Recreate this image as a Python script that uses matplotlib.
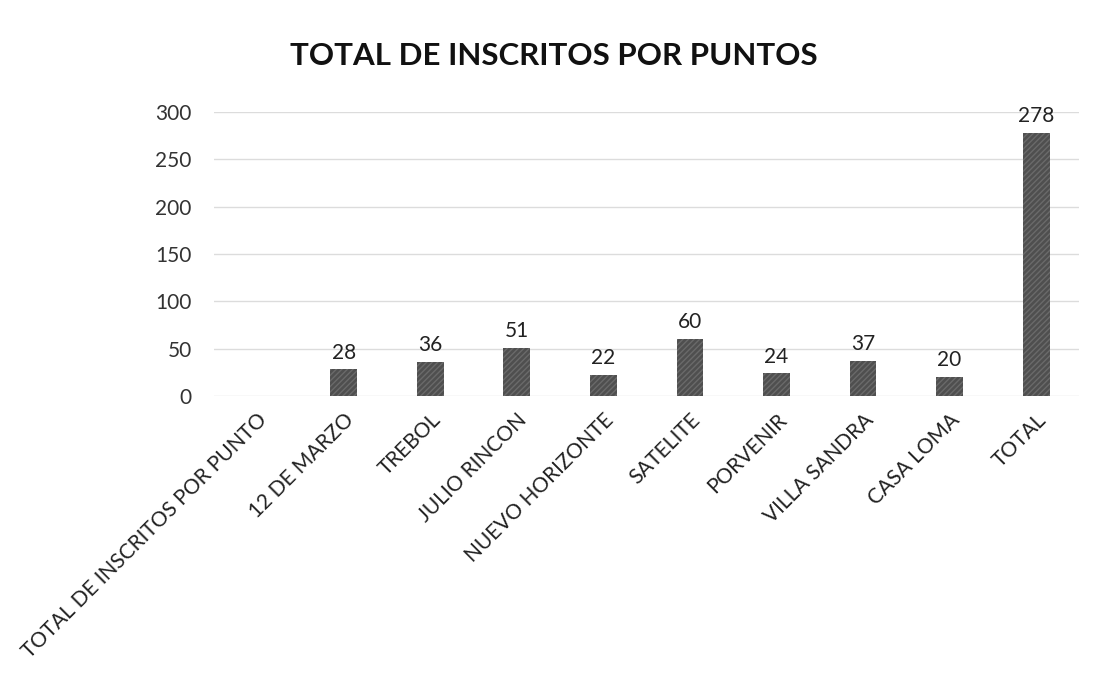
import matplotlib
matplotlib.use("Agg")
import matplotlib.pyplot as plt
import numpy as np

categories = ["TOTAL DE INSCRITOS POR PUNTO", "12 DE MARZO", "TREBOL", "JULIO RINCON",
              "NUEVO HORIZONTE", "SATELITE", "PORVENIR", "VILLA SANDRA", "CASA LOMA", "TOTAL"]
values = [np.nan, 28, 36, 51, 22, 60, 24, 37, 20, 278]
yticks = [0, 50, 100, 150, 200, 250, 300]
title = "TOTAL DE INSCRITOS POR PUNTOS"

plt.rcParams['font.family'] = ['Lato', 'DejaVu Sans']

fig = plt.figure(figsize=(10.97, 6.79), dpi=100)
ax = fig.add_axes([0.195, 0.417, 0.789, 0.418])

x = np.arange(len(categories))
vals = np.array(values, dtype=float)
ax.bar(x, np.nan_to_num(vals), width=0.31, color="#4f4f4f", hatch="//////",
       edgecolor="#6a6a6a", linewidth=0, zorder=3)

for xi, v in zip(x, vals):
    if not np.isnan(v):
        ax.text(xi, v + 7, f"{int(v)}", ha="center", va="bottom", fontsize=15, color="#222222")

ax.set_xlim(-0.5, len(categories) - 0.5)
ax.set_ylim(0, 300)
ax.set_yticks(yticks)
ax.set_yticklabels([str(t) for t in yticks], fontsize=15, color="#333333")
ax.set_xticks(x)
ax.set_xticklabels(categories, rotation=45, ha="right", rotation_mode="anchor",
                   fontsize=15, color="#222222")
ax.tick_params(axis="y", length=0, pad=16)
ax.tick_params(axis="x", length=0, pad=10)
ax.grid(axis="y", color="#dcdcdc", linewidth=1, zorder=0)
for s in ax.spines.values():
    s.set_visible(False)

fig.text(0.505, 0.918, title, ha="center", va="center", fontsize=22.5, fontweight="bold", color="#111111")

fig.savefig("out.png", dpi=100)
